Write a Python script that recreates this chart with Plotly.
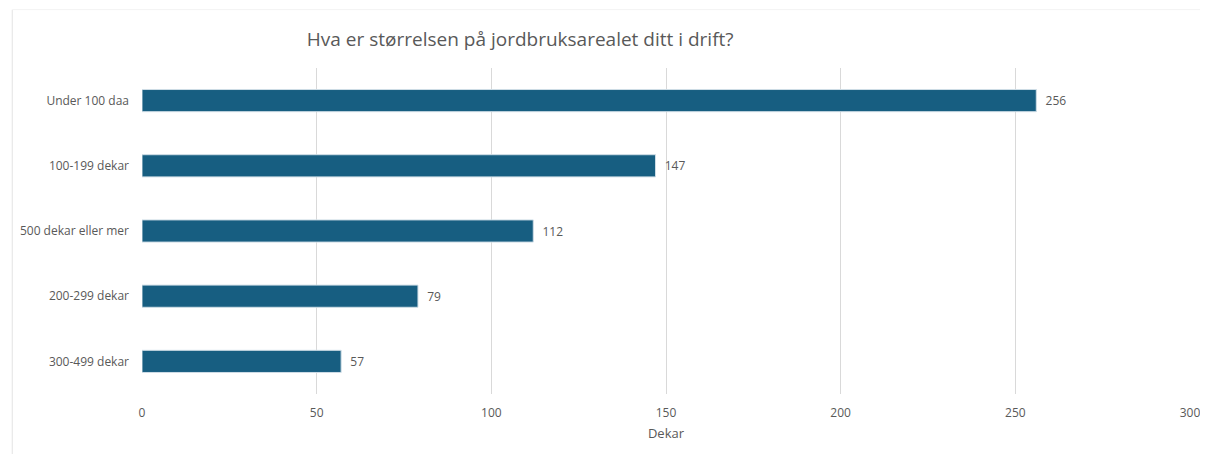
import plotly.graph_objects as go

BAR_COLOR = "#175E81"
TEXT_GRAY = "#595959"

categories = [
    "Under 100 daa",
    "100-199 dekar",
    "500 dekar eller mer",
    "200-299 dekar",
    "300-499 dekar",
]
values = [256, 147, 112, 79, 57]
x_ticks = [0, 50, 100, 150, 200, 250, 300]

fig = go.Figure(
    go.Bar(
        x=values,
        y=categories,
        orientation="h",
        marker=dict(color=BAR_COLOR, line=dict(color="#cfdde6", width=1)),
        text=values,
        texttemplate="\u00a0\u00a0%{x}",
        textposition="outside",
        textfont=dict(size=12, color=TEXT_GRAY),
        cliponaxis=False,
    )
)

fig.update_layout(
    width=1208,
    height=454,
    title=dict(
        text="Hva er størrelsen på jordbruksarealet ditt i drift?",
        x=0.424,
        xanchor="center",
        y=0.93,
        yanchor="middle",
        font=dict(size=19, color=TEXT_GRAY),
    ),
    font=dict(family="Open Sans", size=12, color=TEXT_GRAY),
    plot_bgcolor="white",
    paper_bgcolor="white",
    margin=dict(l=130, r=26, t=60, b=68),
    bargap=0.66,
    showlegend=False,
    xaxis=dict(
        range=[0, 300],
        tickvals=x_ticks,
        showgrid=True,
        gridcolor="#d9d9d9",
        gridwidth=1,
        zeroline=False,
        showline=False,
        ticks="",
        ticklabelstandoff=10,
        title=dict(text="Dekar", font=dict(size=13, color=TEXT_GRAY), standoff=8),
    ),
    yaxis=dict(
        categoryorder="array",
        categoryarray=categories[::-1],
        showgrid=False,
        zeroline=False,
        ticks="",
        ticklabelstandoff=12,
        tickfont=dict(size=12, color=TEXT_GRAY),
    ),
    shapes=[
        dict(
            type="line", xref="paper", yref="paper",
            x0=-0.1238, x1=-0.1238, y0=-0.25, y1=1.179,
            line=dict(color="#e3e3e3", width=1),
        ),
        dict(
            type="line", xref="paper", yref="paper",
            x0=-0.1238, x1=1.03, y0=1.179, y1=1.179,
            line=dict(color="#f3f3f3", width=1),
        ),
    ],
)

fig.write_html("out.html")
